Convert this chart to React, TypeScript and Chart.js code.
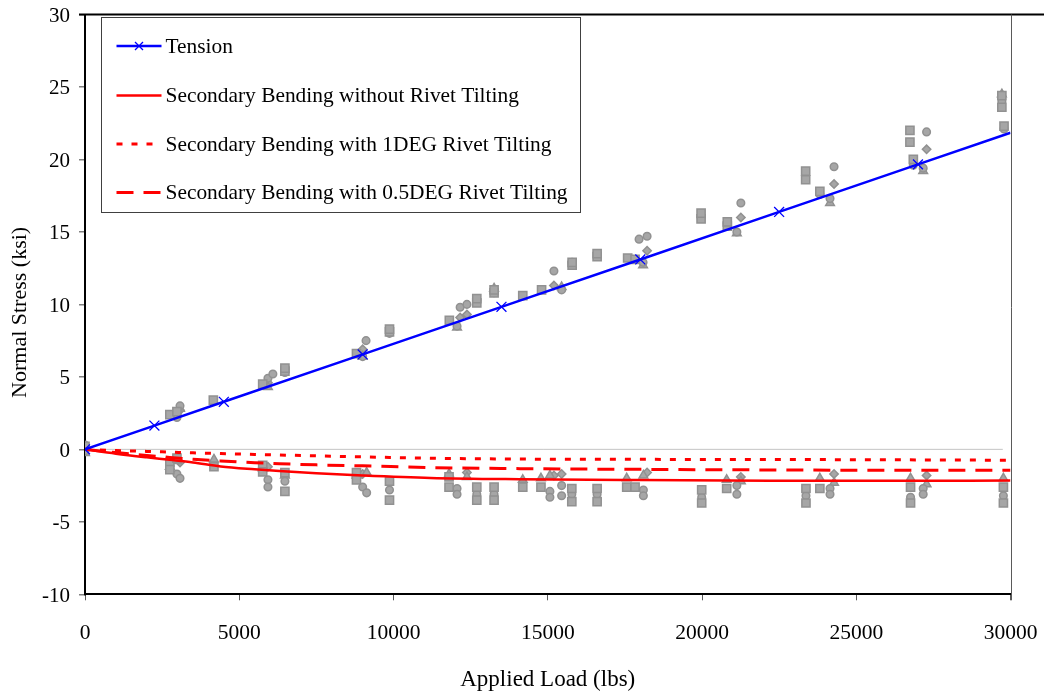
import React, { useEffect, useRef } from 'react';
import { Chart, registerables } from 'chart.js';

Chart.register(...registerables);

const FONT = '"Liberation Serif", "Times New Roman", serif';

// Axis ranges / ticks
const xMin = 0;
const xMax = 30000;
const xStep = 5000;
const yMin = -10;
const yMax = 30;
const yStep = 5;

const xTitle = 'Applied Load (lbs)';
const yTitle = 'Normal Stress (ksi)';

// Series names
const seriesNames = [
  'Tension',
  'Secondary Bending without Rivet Tilting',
  'Secondary Bending with 1DEG Rivet Tilting',
  'Secondary Bending with 0.5DEG Rivet Tilting',
];

// Tension line (load, ksi)
const tensionLoads = [0, 2250, 4500, 9000, 13500, 18000, 22500, 27000, 30000];
const tensionStress = [0, 1.64, 3.28, 6.55, 9.83, 13.1, 16.38, 19.66, 21.84];
const tensionMarkerRadius = [7, 7, 7, 7, 7, 7, 7, 7, 0];

// Secondary bending curves
const bendLoads = [0, 1000, 2000, 2750, 3500, 4400, 5500, 6300, 7500, 9000, 11200, 14100, 18000, 22200, 26000, 30000];
const bendNoTilt = [0, -0.3, -0.55, -0.72, -0.9, -1.18, -1.38, -1.5, -1.65, -1.8, -1.97, -2.06, -2.12, -2.16, -2.17, -2.15];
const bendTilt1Deg = [0, -0.08, -0.14, -0.19, -0.24, -0.29, -0.35, -0.39, -0.45, -0.52, -0.61, -0.67, -0.69, -0.7, -0.72, -0.75];
const bendTiltHalfDeg = [0, -0.22, -0.42, -0.56, -0.68, -0.8, -0.92, -0.99, -1.07, -1.14, -1.26, -1.33, -1.38, -1.42, -1.44, -1.44];

// Zero reference line
const zeroLoads = [0, 29750];
const zeroStress = [0, 0];

// Measured gauge data (load, ksi)
const squarePoints: [number, number][] = [
  [0, 0.2], [2750, 2.4], [2980, 2.6], [4160, 3.4], [5760, 4.5], [6480, 5.4], [6480, 5.6], [8800, 6.6], [9870, 8.1], [9870, 8.3],
  [11810, 8.9], [12700, 10.1], [12700, 10.4], [13260, 10.8], [13260, 11.0], [14190, 10.6], [14800, 11.0], [15790, 12.7], [15790, 12.9], [16600, 13.3],
  [16600, 13.5], [17590, 13.2], [17830, 13.1], [19970, 15.9], [19970, 16.3], [20820, 15.4], [20820, 15.7], [23360, 18.6], [23360, 19.2], [23820, 17.8],
  [26740, 21.2], [26740, 22.0], [26850, 20.0], [29720, 23.6], [29720, 24.4], [29790, 22.3],
  [2750, -0.9], [2750, -1.4], [2980, -0.6], [4180, -1.2], [5760, -1.1], [5760, -1.55], [6480, -1.6], [6480, -2.9], [8800, -1.6], [8800, -2.1],
  [9870, -2.2], [9870, -3.5], [11800, -1.9], [11800, -2.6], [12700, -2.6], [12700, -3.5], [13260, -2.6], [13260, -3.5], [14190, -2.6], [14780, -2.6],
  [15780, -2.7], [15780, -3.6], [16600, -2.7], [16600, -3.6], [17560, -2.6], [17830, -2.6], [19990, -2.8], [19990, -3.7], [20800, -2.7], [23370, -2.7],
  [23370, -3.7], [23820, -2.7], [26760, -2.6], [26760, -3.7], [29770, -2.6], [29770, -3.7],
];

const circlePoints: [number, number][] = [
  [0, 0.3], [2980, 2.2], [3080, 3.0], [5930, 4.9], [6090, 5.2], [6480, 5.3], [9000, 6.4], [9110, 7.5], [9870, 8.0], [12060, 8.5],
  [12160, 9.8], [12380, 10.0], [12700, 10.3], [13260, 10.8], [15200, 12.3], [15450, 11.0], [15790, 12.9], [17960, 14.5], [18220, 14.7], [18090, 12.9],
  [19970, 16.0], [20820, 15.6], [21130, 15.0], [21260, 17.0], [23820, 17.6], [24150, 17.3], [24280, 19.5], [26850, 19.6], [27170, 19.4], [27280, 21.9],
  [29790, 22.1], [29720, 24.0],
  [0, -0.1], [2980, -1.7], [3080, -2.0], [5930, -2.1], [5930, -2.6], [6480, -2.2], [9000, -2.6], [9130, -3.0], [9870, -2.8], [12060, -2.7],
  [12060, -3.1], [12700, -3.1], [13260, -3.1], [15070, -2.9], [15070, -3.3], [15450, -2.5], [15450, -3.2], [15780, -3.1], [16600, -3.1], [18100, -2.8],
  [18100, -3.2], [19990, -3.3], [21130, -2.5], [21130, -3.1], [23370, -3.2], [24150, -2.7], [24150, -3.1], [26760, -3.3], [27170, -2.7], [27170, -3.1],
  [29770, -3.2],
];

const trianglePoints: [number, number][] = [
  [0, -0.25], [3080, 2.8], [5930, 4.3], [9000, 6.4], [12060, 8.4], [13260, 11.1], [15450, 11.2], [18090, 12.7], [21130, 14.9], [24150, 17.0],
  [27170, 19.2], [29720, 24.5],
  [2750, -1.2], [2980, -0.8], [4180, -0.7], [5760, -1.3], [6480, -1.8], [8800, -1.8], [9130, -1.6], [11800, -1.7], [12380, -1.9], [14190, -2.1],
  [14780, -2.0], [15070, -1.8], [17560, -2.0], [18100, -1.8], [20800, -2.1], [21260, -2.2], [23820, -2.0], [24280, -2.3], [26760, -2.0], [27280, -2.4],
  [29770, -2.0],
];

const diamondPoints: [number, number][] = [
  [3080, 2.7], [5930, 4.6], [9000, 6.9], [12160, 9.1], [12380, 9.3], [15200, 11.3], [18220, 13.7], [21260, 16.0], [24280, 18.3], [27280, 20.7],
  [3080, -0.9], [5930, -1.2], [9000, -1.7], [12380, -1.6], [15200, -1.8], [15450, -1.7], [18220, -1.6], [21260, -1.9], [24280, -1.7], [27280, -1.8],
];

const BLUE = '#0000ff';
const RED = '#ff0000';
const GRAY_FILL = '#a6a6a6';
const GRAY_EDGE = '#919191';

const toXY = (xs: number[], ys: number[]) => xs.map((x, i) => ({ x, y: ys[i] }));
const ptsXY = (p: [number, number][]) => p.map(([x, y]) => ({ x, y }));

const framePlugin = {
  id: 'frame',
  afterDraw(chart: any) {
    const { ctx, chartArea: a } = chart;
    ctx.save();
    // top border
    ctx.strokeStyle = '#000000';
    ctx.lineWidth = 2;
    ctx.beginPath();
    ctx.moveTo(a.left - 6, a.top);
    ctx.lineTo(chart.width, a.top);
    ctx.stroke();
    // right border
    ctx.strokeStyle = '#5a5a5a';
    ctx.lineWidth = 1;
    ctx.beginPath();
    ctx.moveTo(Math.round(a.right) + 0.5, a.top);
    ctx.lineTo(Math.round(a.right) + 0.5, a.bottom + 6);
    ctx.stroke();

    // y title
    ctx.fillStyle = '#000000';
    ctx.font = `22px ${FONT}`;
    ctx.textAlign = 'center';
    ctx.textBaseline = 'middle';
    ctx.translate(20, (a.top + a.bottom) / 2 + 8);
    ctx.rotate(-Math.PI / 2);
    ctx.fillText(yTitle, 0, 0);
    ctx.restore();

    // legend
    ctx.save();
    const bx = a.left + 16.5;
    const by = a.top + 3;
    const bw = 479;
    const bh = 195;
    ctx.fillStyle = '#ffffff';
    ctx.fillRect(bx, by, bw, bh);
    ctx.strokeStyle = '#404040';
    ctx.lineWidth = 1;
    ctx.strokeRect(bx, by, bw, bh);
    const rowY = [31.5, 81, 129.5, 178].map((d) => a.top + d);
    const lx0 = bx + 15;
    const lx1 = bx + 60;
    const styles = [
      { color: BLUE, dash: [] as number[], width: 2.5 },
      { color: RED, dash: [] as number[], width: 2.5 },
      { color: RED, dash: [6, 9], width: 3 },
      { color: RED, dash: [17, 10], width: 3 },
    ];
    seriesNames.forEach((name, i) => {
      const y = rowY[i];
      const s = styles[i];
      ctx.strokeStyle = s.color;
      ctx.lineWidth = s.width;
      ctx.setLineDash(s.dash);
      ctx.beginPath();
      ctx.moveTo(lx0, y);
      ctx.lineTo(lx1, y);
      ctx.stroke();
      ctx.setLineDash([]);
      if (i === 0) {
        const cx = (lx0 + lx1) / 2;
        const r = 4;
        ctx.lineWidth = 1.3;
        ctx.beginPath();
        ctx.moveTo(cx - r, y - r);
        ctx.lineTo(cx + r, y + r);
        ctx.moveTo(cx - r, y + r);
        ctx.lineTo(cx + r, y - r);
        ctx.stroke();
      }
      ctx.fillStyle = '#000000';
      ctx.font = `21.4px ${FONT}`;
      ctx.textAlign = 'left';
      ctx.textBaseline = 'middle';
      ctx.fillText(name, lx1 + 4, y + 1);
    });
    ctx.restore();
  },
};

export default function App() {
  const canvasRef = useRef<HTMLCanvasElement | null>(null);

  useEffect(() => {
    const canvas = canvasRef.current;
    if (!canvas) return;
    const scatterBase = {
      type: 'scatter' as const,
      showLine: false,
      backgroundColor: GRAY_FILL,
      borderColor: GRAY_EDGE,
      pointBorderWidth: 1.5,
    };
    const chart = new Chart(canvas, {
      type: 'scatter',
      data: {
        datasets: [
          {
            label: seriesNames[0],
            data: toXY(tensionLoads, tensionStress),
            showLine: true,
            borderColor: BLUE,
            backgroundColor: BLUE,
            borderWidth: 2.5,
            pointStyle: 'crossRot',
            pointRadius: tensionMarkerRadius,
            pointBorderWidth: 1.3,
            pointBorderColor: BLUE,
            tension: 0,
          },
          {
            label: seriesNames[1],
            data: toXY(bendLoads, bendNoTilt),
            showLine: true,
            borderColor: RED,
            backgroundColor: RED,
            borderWidth: 2.5,
            pointRadius: 0,
            cubicInterpolationMode: 'monotone',
          },
          {
            label: seriesNames[2],
            data: toXY(bendLoads, bendTilt1Deg),
            showLine: true,
            borderColor: RED,
            backgroundColor: RED,
            borderWidth: 3,
            borderDash: [6, 9],
            pointRadius: 0,
            cubicInterpolationMode: 'monotone',
          },
          {
            label: seriesNames[3],
            data: toXY(bendLoads, bendTiltHalfDeg),
            showLine: true,
            borderColor: RED,
            backgroundColor: RED,
            borderWidth: 3,
            borderDash: [17, 10],
            pointRadius: 0,
            cubicInterpolationMode: 'monotone',
          },
          { ...scatterBase, label: 'Gauge A', data: ptsXY(squarePoints), pointStyle: 'rect', pointRadius: 5.8 },
          { ...scatterBase, label: 'Gauge B', data: ptsXY(circlePoints), pointStyle: 'circle', pointRadius: 3.8 },
          { ...scatterBase, label: 'Gauge C', data: ptsXY(trianglePoints), pointStyle: 'triangle', pointRadius: 5 },
          { ...scatterBase, label: 'Gauge D', data: ptsXY(diamondPoints), pointStyle: 'rectRot', pointRadius: 4.2 },
          {
            label: 'Zero',
            data: toXY(zeroLoads, zeroStress),
            showLine: true,
            borderColor: '#c4c4c4',
            borderWidth: 1,
            pointRadius: 0,
          },
        ],
      },
      options: {
        responsive: false,
        animation: false,
        events: [],
        layout: { padding: { top: 14.5, right: 33.5, bottom: 0, left: 0 } },
        plugins: {
          legend: { display: false },
          tooltip: { enabled: false },
        },
        scales: {
          x: {
            type: 'linear',
            min: xMin,
            max: xMax,
            afterFit: (s: any) => {
              s.height = 101.7;
              s.paddingLeft = 0;
              s.paddingRight = 0;
            },
            ticks: {
              stepSize: xStep,
              padding: 20,
              color: '#000000',
              font: { family: FONT, size: 21.5 },
              maxRotation: 0,
              callback: (v: any) => String(v),
            },
            grid: {
              display: true,
              drawOnChartArea: false,
              drawTicks: true,
              tickLength: 6,
              color: '#5a5a5a',
              lineWidth: 1,
            },
            border: { display: true, color: '#000000', width: 2 },
            title: {
              display: true,
              text: xTitle,
              color: '#000000',
              font: { family: FONT, size: 23 },
              padding: { top: 0, bottom: 2.5 },
            },
          },
          y: {
            type: 'linear',
            min: yMin,
            max: yMax,
            afterFit: (s: any) => {
              s.width = 85;
              s.paddingTop = 0;
              s.paddingBottom = 0;
            },
            ticks: {
              stepSize: yStep,
              padding: 9,
              labelOffset: 2,
              color: '#000000',
              font: { family: FONT, size: 21 },
            },
            grid: {
              display: true,
              drawOnChartArea: false,
              drawTicks: true,
              tickLength: 6,
              color: '#808080',
              lineWidth: 1.5,
            },
            border: { display: true, color: '#000000', width: 2 },
          },
        },
      },
      plugins: [framePlugin],
    } as any);
    return () => chart.destroy();
  }, []);

  return (
    <div style={{ position: 'fixed', left: 0, top: 0, width: 1044, height: 696, background: '#ffffff' }}>
      <canvas ref={canvasRef} width={1044} height={696} style={{ display: 'block' }} />
    </div>
  );
}
